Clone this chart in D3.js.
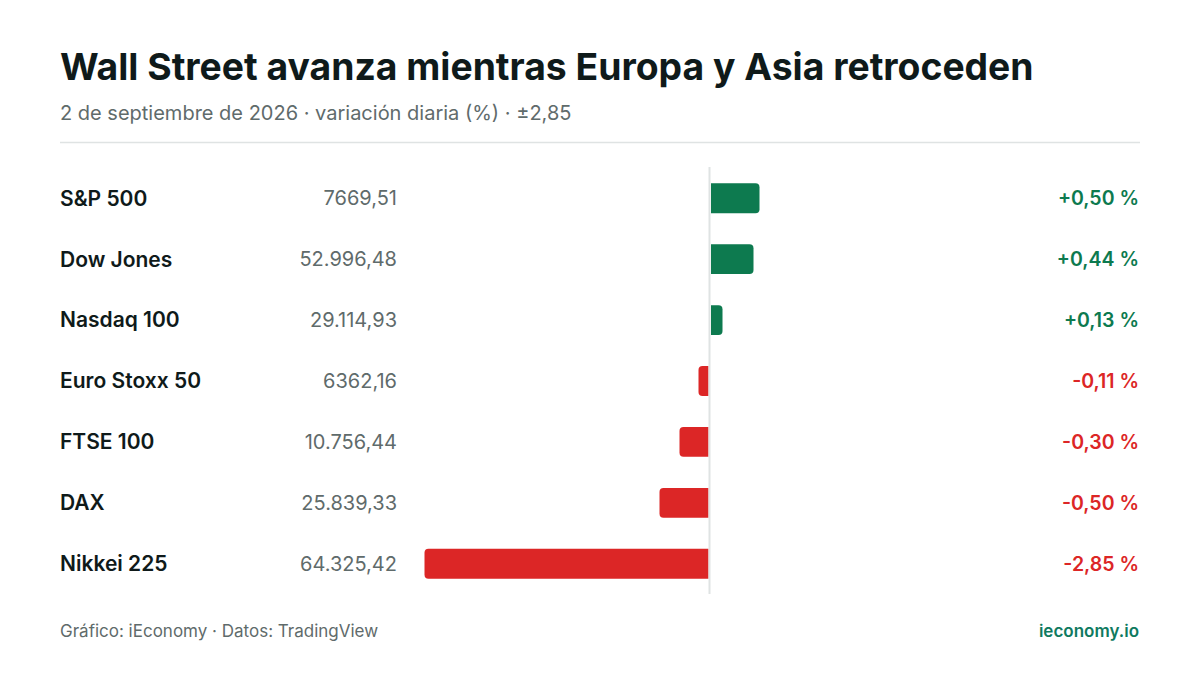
<!DOCTYPE html>
<html>
<head>
<meta charset="utf-8">
<script src="https://cdn.jsdelivr.net/npm/d3@7"></script>
<style>
  body { margin: 0; background: #fff; }
  svg { font-family: Inter, "Noto Sans", sans-serif; }
</style>
</head>
<body>
<div id="chart"></div>
<script>
// data
var indices = ['S&P 500', 'Dow Jones', 'Nasdaq 100', 'Euro Stoxx 50', 'FTSE 100', 'DAX', 'Nikkei 225'];
var closes = ['7669,51', '52.996,48', '29.114,93', '6362,16', '10.756,44', '25.839,33', '64.325,42'];
var changes = [0.50, 0.44, 0.13, -0.11, -0.30, -0.50, -2.85];

var width = 1200, height = 675;
var green = '#0d7a4f', red = '#dc2626';

var svg = d3.select('#chart').append('svg')
    .attr('width', width)
    .attr('height', height);

svg.append('rect').attr('width', width).attr('height', height).attr('fill', '#fff');

// titles
svg.append('text')
    .attr('x', 60).attr('y', 80)
    .attr('font-size', 37.3).attr('font-weight', 700)
    .attr('fill', '#0f1a1a')
    .text('Wall Street avanza mientras Europa y Asia retroceden');

svg.append('text')
    .attr('x', 60).attr('y', 120)
    .attr('font-size', 20)
    .attr('fill', '#5f6b6b')
    .text('2 de septiembre de 2026 · variación diaria (%) · ±2,85');

svg.append('line')
    .attr('x1', 60).attr('x2', 1140)
    .attr('y1', 142.5).attr('y2', 142.5)
    .attr('stroke', '#dfe3e3').attr('stroke-width', 1.5);

// scales
var y = d3.scaleBand()
    .domain(indices)
    .range([167.5, 594.5])
    .paddingInner(0.51)
    .paddingOuter(0.26);

var x = d3.scaleLinear()
    .domain([-2.85, 2.85])
    .range([424.5, 994.5]);

var fmt = function(v) {
    return (v > 0 ? '+' : '-') + d3.format('.2f')(Math.abs(v)).replace('.', ',') + ' %';
};

// rounded on the outer end only
function barPath(v, i) {
    var r = 4, y0 = y(indices[i]), h = y.bandwidth();
    var x0 = x(0), x1 = x(v);
    if (v >= 0) {
        x0 += 1.5;
        return 'M' + x0 + ',' + y0 + 'H' + (x1 - r) + 'Q' + x1 + ',' + y0 + ' ' + x1 + ',' + (y0 + r) +
            'V' + (y0 + h - r) + 'Q' + x1 + ',' + (y0 + h) + ' ' + (x1 - r) + ',' + (y0 + h) + 'H' + x0 + 'Z';
    }
    x0 -= 1;
    return 'M' + x0 + ',' + y0 + 'H' + (x1 + r) + 'Q' + x1 + ',' + y0 + ' ' + x1 + ',' + (y0 + r) +
        'V' + (y0 + h - r) + 'Q' + x1 + ',' + (y0 + h) + ' ' + (x1 + r) + ',' + (y0 + h) + 'H' + x0 + 'Z';
}

var rows = svg.selectAll('.row')
    .data(changes)
    .enter().append('g')
    .attr('class', 'row');

rows.append('path')
    .attr('d', function(d, i) { return barPath(d, i); })
    .attr('fill', function(d) { return d >= 0 ? green : red; });

rows.append('text')
    .attr('x', 60)
    .attr('y', function(d, i) { return y(indices[i]) + y.bandwidth() / 2; })
    .attr('dy', '0.35em')
    .attr('font-size', 21).attr('font-weight', 600)
    .attr('fill', '#0f1a1a')
    .text(function(d, i) { return indices[i]; });

rows.append('text')
    .attr('x', 397)
    .attr('y', function(d, i) { return y(indices[i]) + y.bandwidth() / 2; })
    .attr('dy', '0.35em')
    .attr('text-anchor', 'end')
    .attr('font-size', 20)
    .attr('fill', '#5f6b6b')
    .text(function(d, i) { return closes[i]; });

rows.append('text')
    .attr('x', 1139)
    .attr('y', function(d, i) { return y(indices[i]) + y.bandwidth() / 2; })
    .attr('dy', '0.35em')
    .attr('text-anchor', 'end')
    .attr('font-size', 19.5).attr('font-weight', 600)
    .attr('fill', function(d) { return d >= 0 ? green : red; })
    .text(function(d) { return fmt(d); });

// zero line
svg.append('line')
    .attr('x1', x(0)).attr('x2', x(0))
    .attr('y1', 167).attr('y2', 594)
    .attr('stroke', '#dfe3e3').attr('stroke-width', 2);

// footer
svg.append('text')
    .attr('x', 60).attr('y', 637)
    .attr('font-size', 17)
    .attr('fill', '#5f6b6b')
    .text('Gráfico: iEconomy · Datos: TradingView');

svg.append('text')
    .attr('x', 1139).attr('y', 637)
    .attr('text-anchor', 'end')
    .attr('font-size', 17).attr('font-weight', 600)
    .attr('fill', '#0f7a5f')
    .text('ieconomy.io');
</script>
</body>
</html>
